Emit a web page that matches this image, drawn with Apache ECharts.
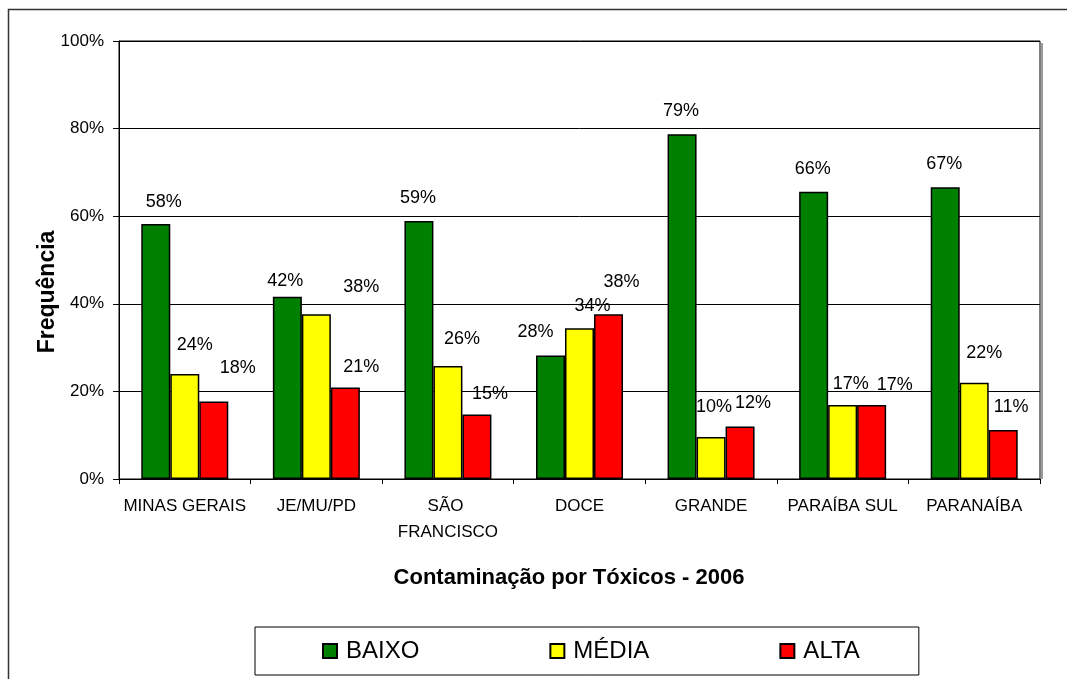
<!DOCTYPE html>
<html>
<head>
<meta charset="utf-8">
<title>Contaminação por Tóxicos - 2006</title>
<script src="https://cdn.jsdelivr.net/npm/echarts@6/dist/echarts.min.js"></script>
<style>
  html, body { margin: 0; padding: 0; background: #fff; }
  #chart { width: 1067px; height: 679px; }
</style>
</head>
<body>
<div id="chart"></div>
<script>
// dados
const categories = ['MINAS GERAIS', 'JE/MU/PD', 'SÃO FRANCISCO', 'DOCE', 'GRANDE', 'PARAÍBA SUL', 'PARANAÍBA']
const baixo = [58.2, 41.6, 58.9, 28.2, 78.7, 65.6, 66.6]
const media = [24.0, 37.6, 25.8, 34.4, 9.6, 16.9, 22.0]
const alta = [17.7, 20.9, 14.7, 37.6, 12.0, 16.9, 11.2]
const yTicks = [0, 20, 40, 60, 80, 100]

// deslocamento dos rótulos (px) como no gráfico original
const shiftBaixo = [[8, -22], [-2, -16], [-1, -23], [-15, -23], [-1, -23], [-1, -23], [-1, -23]]
const shiftMedia = [[10, -29], [45, -27], [14, -27], [13, -22], [3, -30], [8, -21], [10, -30]]
const shiftAlta = [[24, -33], [16, -20], [13, -21], [13, -32], [13, -23], [23, -20], [8, -23]]

const FONT = '"Liberation Sans", Arial, sans-serif'

const chart = echarts.init(document.getElementById('chart'))

// monta os itens com o rótulo deslocado
const withLabels = (values, shifts) => values.map((v, i) => ({
  value: v,
  label: { offset: [shifts[i][0], shifts[i][1] + 9] },
}))

const barSeries = (name, color, values, shifts) => ({
  name,
  type: 'bar',
  barWidth: 29,
  barGap: '0%',
  data: withLabels(values, shifts),
  itemStyle: {
    color,
    borderColor: '#000',
    borderWidth: 1.5,
  },
  label: {
    show: true,
    position: 'top',
    distance: 0,
    color: '#000',
    fontFamily: FONT,
    fontSize: 18,
    lineHeight: 18,
    formatter: (p) => Math.round(p.value) + '%',
  },
  emphasis: { disabled: true },
})

const options = {
  animation: false,
  backgroundColor: '#fff',
  grid: {
    left: 119,
    right: 27,
    top: 41,
    bottom: 200,
    show: true,
    borderColor: '#000',
    borderWidth: 1,
    outerBoundsMode: 'none',
  },
  legend: {
    left: 255,
    top: 627,
    orient: 'horizontal',
    itemWidth: 14,
    itemHeight: 14,
    itemGap: 130,
    padding: [12, 59, 12, 67],
    borderColor: '#000',
    borderWidth: 1,
    icon: 'rect',
    textStyle: {
      color: '#000',
      fontFamily: FONT,
      fontSize: 24,
      padding: [0, 0, 0, 4],
    },
    data: ['BAIXO', 'MÉDIA', 'ALTA'],
  },
  xAxis: {
    type: 'category',
    data: categories,
    axisLine: { lineStyle: { color: '#000', width: 1 } },
    axisTick: { show: true, inside: false, length: 5, alignWithLabel: false, lineStyle: { color: '#000' } },
    axisLabel: {
      interval: 0,
      margin: 14,
      color: '#000',
      fontFamily: FONT,
      fontSize: 17,
      lineHeight: 26,
      width: 130,
      overflow: 'break',
    },
    splitLine: { show: false },
  },
  yAxis: {
    type: 'value',
    min: yTicks[0],
    max: yTicks[yTicks.length - 1],
    interval: yTicks[1] - yTicks[0],
    axisLine: { show: true, lineStyle: { color: '#000', width: 1 } },
    axisTick: { show: true, inside: false, length: 6, lineStyle: { color: '#000' } },
    axisLabel: {
      margin: 15,
      color: '#000',
      fontFamily: FONT,
      fontSize: 17,
      formatter: '{value}%',
    },
    splitLine: { show: true, lineStyle: { color: '#000', width: 1, type: 'solid' } },
  },
  graphic: [
    {
      type: 'rect',
      z: -10,
      shape: { x: 8.5, y: 9.5, width: 1200, height: 800 },
      style: { fill: 'none', stroke: '#333', lineWidth: 1.5 },
    },
    {
      // sombra cinza à direita da área do gráfico
      type: 'line',
      shape: { x1: 1042, y1: 43, x2: 1042, y2: 479 },
      style: { stroke: '#999', lineWidth: 2 },
    },
    {
      type: 'text',
      x: 569,
      y: 578,
      style: {
        text: 'Contaminação por Tóxicos - 2006',
        fontFamily: FONT,
        fontSize: 22,
        fontWeight: 'bold',
        fill: '#000',
        textAlign: 'center',
        textVerticalAlign: 'middle',
      },
    },
    {
      type: 'text',
      x: 48,
      y: 292,
      rotation: Math.PI / 2,
      style: {
        text: 'Frequência',
        fontFamily: FONT,
        fontSize: 23,
        fontWeight: 'bold',
        fill: '#000',
        textAlign: 'center',
        textVerticalAlign: 'middle',
      },
    },
  ],
  series: [
    barSeries('BAIXO', '#008000', baixo, shiftBaixo),
    barSeries('MÉDIA', '#FFFF00', media, shiftMedia),
    barSeries('ALTA', '#FF0000', alta, shiftAlta),
  ],
}

chart.setOption(options, true)
</script>
</body>
</html>
